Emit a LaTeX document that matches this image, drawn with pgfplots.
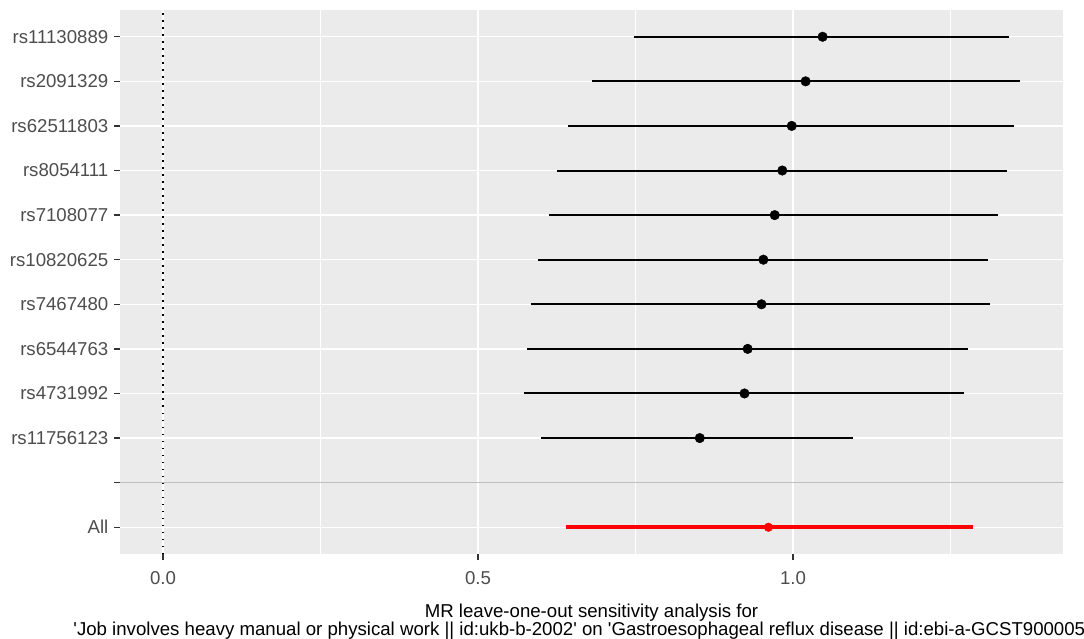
\documentclass[border=0pt]{standalone}
\usepackage{fontspec}
\newfontfamily\rfont{Liberation Sans}
\usepackage{pgfplots}
\pgfplotsset{compat=1.18}
\usepackage{pgfplotstable}
\definecolor{panelbg}{HTML}{EBEBEB}
\definecolor{gray30}{HTML}{4D4D4D}
\definecolor{gray20}{HTML}{333333}
\definecolor{hgray}{HTML}{BEBEBE}

\pgfplotstableread{
y b lo hi
12 1.047 0.748 1.343
11 1.020 0.681 1.360
10 0.998 0.643 1.351
9 0.983 0.626 1.339
8 0.971 0.613 1.325
7 0.953 0.595 1.309
6 0.950 0.584 1.312
5 0.928 0.578 1.277
4 0.923 0.573 1.271
3 0.852 0.600 1.096
}\snps
\pgfplotstableread{
y b lo hi
1 0.961 0.640 1.285
}\allrow

\begin{document}
\begin{tikzpicture}
\begin{axis}[
  scale only axis, width=943bp, height=544bp,
  at={(0,0)}, anchor=south west,
  xmin=-0.0683, xmax=1.4286, ymin=0.4, ymax=12.6,
  axis background/.style={fill=panelbg},
  axis line style={draw=none},
  tick align=outside, tick pos=left,
  major tick length=5.5bp, minor tick length=0pt,
  tick style={gray20, line width=1.4bp},
  xtick={0,0.5,1}, xticklabels={0.0,0.5,1.0},
  minor xtick={0.25,0.75,1.25},
  ytick={1,2,3,4,5,6,7,8,9,10,11,12},
  yticklabels={All,{},rs11756123,rs4731992,rs6544763,rs7467480,rs10820625,rs7108077,rs8054111,rs62511803,rs2091329,rs11130889},
  xmajorgrids, ymajorgrids, xminorgrids,
  major grid style={white, line width=1.4bp},
  minor grid style={white, line width=0.7bp},
  ticklabel style={font=\rfont\fontsize{18.7}{20}\selectfont, text=gray30, inner sep=0pt},
  yticklabel style={anchor=east, xshift=-6bp},
  xticklabel style={anchor=north, yshift=-12bp},
  xlabel={MR leave-one-out sensitivity analysis for\\'Job involves heavy manual or physical work || id:ukb-b-2002' on 'Gastroesophageal reflux disease || id:ebi-a-GCST90000514'},
  xlabel style={font=\rfont\fontsize{18.7}{18}\selectfont, align=center, anchor=north, at={(axis description cs:0.5,0)}, yshift=-50bp, inner sep=0pt, text=black},
]
% dotted reference line at 0
\addplot[black, line width=1.5bp, dash pattern=on 1.5bp off 5.5bp, forget plot] coordinates {(0,0.4) (0,12.6)};
% error bars (leave-one-out)
\addplot[draw=none, mark=none, forget plot,
  error bars/.cd, x dir=both, x explicit, error mark=none,
  error bar style={draw=black, line width=2bp}]
  table[x=b, y=y, x error plus expr=\thisrow{hi}-\thisrow{b}, x error minus expr=\thisrow{b}-\thisrow{lo}] {\snps};
\addplot[draw=none, mark=none, forget plot,
  error bars/.cd, x dir=both, x explicit, error mark=none,
  error bar style={draw=red, line width=3.8bp}]
  table[x=b, y=y, x error plus expr=\thisrow{hi}-\thisrow{b}, x error minus expr=\thisrow{b}-\thisrow{lo}] {\allrow};
% points
\addplot[only marks, mark=*, mark size=4.8bp, mark options={draw=black, fill=black}, forget plot]
  table[x=b, y=y] {\snps};
\addplot[only marks, mark=*, mark size=4.3bp, mark options={draw=red, fill=red}, forget plot]
  table[x=b, y=y] {\allrow};
% separator line
\addplot[hgray, line width=1.4bp, forget plot] coordinates {(-0.0683,2) (1.4286,2)};
\end{axis}
\pgfresetboundingbox
\path[use as bounding box] (-120bp,-85bp) rectangle (964bp,554bp);
\end{tikzpicture}
\end{document}
